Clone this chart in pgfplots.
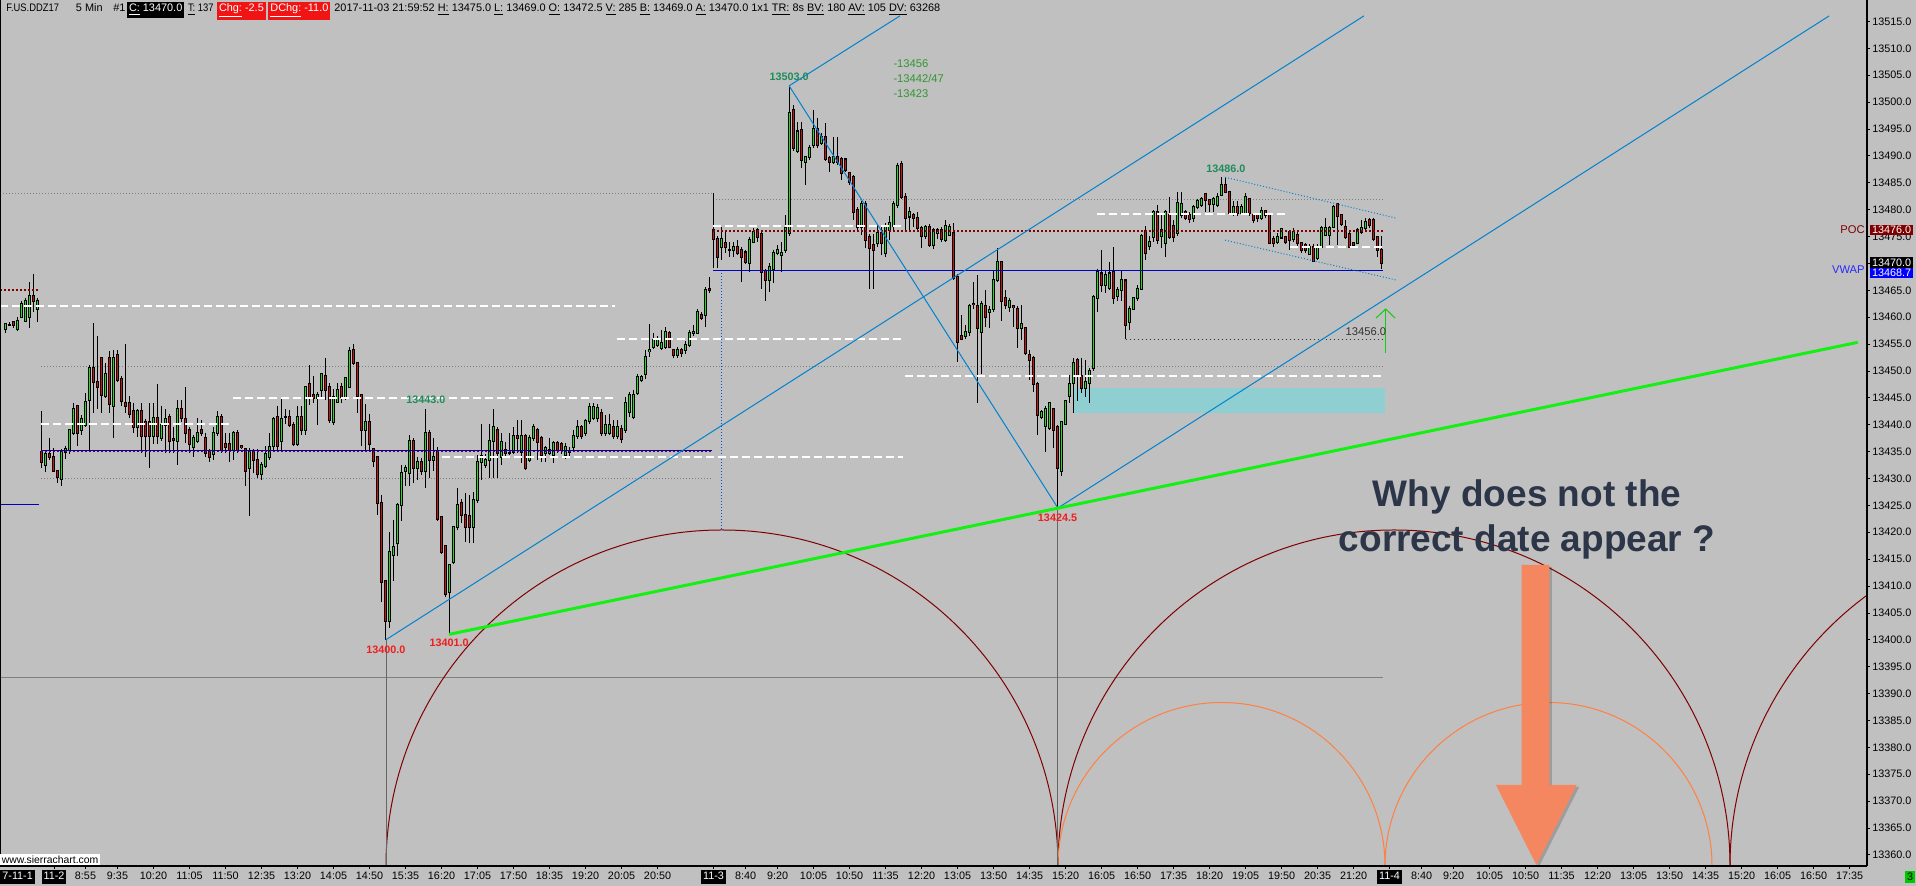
\documentclass[border=0pt]{standalone}
\usepackage{pgfplots}
\pgfplotsset{compat=1.18}
\usepackage{pgfplotstable}
\usepackage{fontspec}
\setmainfont{Liberation Sans}
\newfontfamily\narrowfont[FakeStretch=0.86]{Liberation Sans}
\definecolor{bgray}{RGB}{192,192,192}
\definecolor{cup}{RGB}{30,225,30}
\definecolor{cdn}{RGB}{210,16,16}
\definecolor{poc}{RGB}{128,0,0}
\definecolor{vwap}{RGB}{0,0,190}
\definecolor{tline}{RGB}{0,130,205}
\definecolor{glin}{RGB}{20,240,20}
\definecolor{arcred}{RGB}{128,0,0}
\definecolor{arcor}{RGB}{255,128,64}
\definecolor{cyanbox}{RGB}{143,207,210}
\definecolor{lblgreen}{RGB}{30,140,90}
\definecolor{notegreen}{RGB}{50,150,50}
\definecolor{lblred}{RGB}{240,30,30}
\definecolor{qtext}{RGB}{44,54,72}
\definecolor{arrowc}{RGB}{244,135,95}
\definecolor{hdrred}{RGB}{240,20,20}
\setlength{\fboxsep}{1pt}
\newcommand{\uif}{\fontsize{5.4}{6.5}\selectfont}
\newcommand{\hdf}{\fontsize{5.45}{6.5}\selectfont}
\newcommand{\dbox}[1]{\colorbox{black}{\rule[-1pt]{0pt}{5pt}\textcolor{white}{#1}}}

\pgfplotstableread{
x O H L C
-9 13457.8 13458.7 13457.1 13458.7
-8 13458.6 13459.0 13458.3 13458.6
-7 13459.0 13459.2 13458.0 13458.6
-6 13457.8 13460.0 13457.5 13459.3
-5 13460.0 13463.0 13459.8 13462.5
-4 13459.3 13463.5 13459.0 13463.0
-3 13460.0 13466.5 13458.0 13464.0
-2 13464.0 13468.0 13461.0 13463.0
-1 13461.5 13463.5 13459.0 13463.0
0 13435.0 13442.5 13432.0 13433.0
1 13432.5 13435.3 13431.1 13434.5
2 13434.5 13437.5 13433.5 13434.0
3 13434.0 13435.6 13431.1 13431.4
4 13431.4 13431.4 13429.1 13430.3
5 13429.9 13435.5 13428.5 13435.0
6 13435.0 13436.0 13433.6 13435.5
7 13435.3 13439.0 13434.6 13439.0
8 13438.4 13444.0 13438.0 13442.9
9 13443.5 13443.5 13436.0 13438.4
10 13439.0 13441.8 13438.0 13441.0
11 13440.0 13445.8 13439.6 13444.3
12 13444.5 13451.0 13435.0 13450.5
13 13450.5 13458.9 13442.1 13447.9
14 13447.9 13456.5 13442.9 13447.0
15 13452.3 13452.3 13442.1 13445.5
16 13445.4 13451.4 13445.0 13449.4
17 13452.3 13453.7 13442.1 13443.9
18 13443.4 13453.9 13437.6 13452.3
19 13452.9 13453.9 13448.0 13448.3
20 13448.5 13449.0 13443.5 13444.3
21 13444.1 13455.0 13442.1 13443.4
22 13444.0 13445.4 13441.2 13442.0
23 13442.5 13444.0 13438.5 13439.6
24 13439.6 13442.9 13437.7 13442.5
25 13442.5 13444.0 13434.7 13437.8
26 13440.4 13441.0 13434.0 13437.8
27 13440.4 13444.0 13432.0 13437.8
28 13437.9 13444.0 13436.4 13441.3
29 13441.3 13447.5 13436.4 13437.9
30 13437.5 13443.4 13437.0 13440.0
31 13440.0 13442.9 13434.7 13441.0
32 13441.5 13442.0 13434.7 13436.9
33 13437.4 13439.6 13434.7 13437.1
34 13436.9 13444.6 13432.5 13442.9
35 13442.9 13444.6 13440.5 13441.3
36 13441.0 13447.0 13436.6 13438.4
37 13439.0 13439.6 13434.7 13436.4
38 13435.9 13438.0 13434.0 13437.5
39 13436.9 13441.2 13436.5 13438.5
40 13439.0 13440.9 13437.8 13438.4
41 13437.5 13438.4 13434.0 13434.7
42 13435.0 13435.5 13433.0 13434.0
43 13434.6 13439.6 13433.4 13438.4
44 13438.4 13442.6 13437.9 13441.5
45 13441.5 13442.0 13434.7 13435.3
46 13436.4 13438.4 13434.7 13435.9
47 13436.4 13438.4 13433.0 13435.3
48 13435.3 13438.8 13433.4 13438.4
49 13438.4 13439.0 13434.7 13435.3
50 13436.0 13436.1 13435.5 13435.8
51 13435.4 13435.6 13428.5 13431.4
52 13432.0 13435.6 13423.1 13435.0
53 13435.0 13435.5 13431.1 13433.4
54 13433.4 13435.5 13430.0 13430.8
55 13430.8 13433.0 13429.7 13432.5
56 13432.3 13436.0 13432.0 13434.5
57 13434.0 13438.4 13433.5 13435.9
58 13436.0 13441.5 13435.0 13441.0
59 13441.5 13443.4 13435.0 13436.0
60 13436.9 13444.9 13435.0 13441.0
61 13441.5 13443.0 13440.2 13441.4
62 13441.5 13442.7 13439.5 13440.0
63 13440.0 13440.5 13436.0 13436.4
64 13436.4 13443.4 13436.0 13441.5
65 13441.5 13443.4 13438.0 13439.0
66 13439.0 13447.2 13438.0 13447.0
67 13447.5 13451.0 13443.7 13444.9
68 13445.5 13449.0 13444.0 13444.9
69 13444.9 13446.0 13440.0 13445.5
70 13446.5 13449.5 13445.2 13449.4
71 13449.0 13452.3 13444.6 13446.5
72 13447.0 13447.7 13440.3 13440.9
73 13440.4 13446.6 13440.0 13445.2
74 13444.3 13447.7 13444.0 13446.5
75 13447.0 13447.7 13444.0 13445.2
76 13445.2 13448.8 13444.6 13448.6
77 13447.0 13454.5 13446.9 13453.6
78 13453.9 13455.0 13451.0 13451.4
79 13451.4 13451.5 13442.1 13445.4
80 13445.5 13445.5 13436.0 13439.0
81 13439.0 13443.8 13435.0 13440.4
82 13440.4 13442.0 13435.0 13436.4
83 13435.4 13435.5 13432.2 13433.3
84 13434.0 13434.0 13423.2 13425.4
85 13425.4 13427.0 13407.1 13410.8
86 13410.9 13411.0 13400.0 13403.4
87 13403.4 13420.0 13402.2 13416.4
88 13415.8 13422.3 13411.0 13417.3
89 13418.0 13425.5 13415.5 13425.1
90 13425.1 13432.5 13422.0 13431.0
91 13431.3 13432.5 13428.5 13431.9
92 13431.0 13438.0 13428.5 13436.9
93 13436.9 13437.5 13429.1 13431.9
94 13431.9 13434.0 13429.7 13433.0
95 13433.0 13433.8 13430.6 13431.3
96 13431.3 13442.9 13428.2 13438.4
97 13438.4 13439.0 13430.0 13433.4
98 13433.4 13437.5 13431.4 13434.0
99 13435.0 13435.9 13422.0 13422.4
100 13422.9 13422.9 13416.0 13416.4
101 13417.4 13417.4 13408.0 13408.5
102 13408.9 13414.0 13401.0 13413.9
103 13414.5 13421.0 13414.0 13421.0
104 13421.0 13428.2 13420.5 13425.1
105 13425.4 13426.1 13421.7 13423.2
106 13423.2 13427.2 13418.2 13421.0
107 13423.0 13427.0 13418.0 13420.9
108 13420.9 13427.5 13418.0 13426.0
109 13426.0 13434.4 13425.5 13433.1
110 13433.1 13440.1 13429.7 13434.1
111 13432.5 13434.6 13432.0 13433.4
112 13433.4 13440.2 13430.0 13436.9
113 13436.9 13442.9 13430.0 13439.5
114 13439.0 13439.5 13430.0 13434.7
115 13434.0 13438.5 13432.5 13436.8
116 13435.3 13436.8 13434.2 13434.8
117 13434.8 13438.4 13434.4 13434.8
118 13435.0 13439.6 13434.6 13437.8
119 13437.8 13440.9 13434.7 13437.6
120 13435.0 13440.9 13432.8 13437.8
121 13437.8 13438.2 13431.6 13431.9
122 13433.4 13438.0 13433.0 13437.5
123 13437.5 13440.2 13437.0 13439.6
124 13439.0 13439.3 13433.4 13436.8
125 13437.5 13437.9 13433.1 13434.4
126 13434.7 13436.0 13433.1 13435.6
127 13434.7 13437.5 13434.4 13435.3
128 13434.4 13437.0 13432.8 13436.5
129 13436.5 13437.0 13434.8 13435.3
130 13436.4 13436.8 13434.5 13435.3
131 13434.4 13436.5 13433.6 13435.9
132 13435.0 13435.8 13434.2 13435.0
133 13435.9 13439.0 13435.3 13437.8
134 13437.9 13440.9 13437.3 13439.6
135 13439.6 13440.0 13437.3 13437.8
136 13438.4 13441.0 13437.9 13440.6
137 13440.6 13444.0 13440.2 13443.3
138 13441.2 13444.0 13440.8 13443.3
139 13441.2 13443.8 13440.5 13443.0
140 13442.1 13443.0 13437.8 13438.4
141 13438.4 13441.8 13437.9 13439.9
142 13438.5 13442.0 13438.0 13439.9
143 13439.6 13440.9 13437.4 13437.8
144 13437.8 13440.9 13437.3 13439.6
145 13439.1 13440.0 13436.5 13437.4
146 13439.0 13445.2 13438.5 13444.0
147 13442.4 13446.0 13441.5 13445.5
148 13441.5 13446.5 13441.0 13445.5
149 13445.8 13449.5 13445.5 13448.9
150 13448.3 13449.3 13448.0 13448.9
151 13449.5 13453.9 13448.5 13452.6
152 13453.6 13458.8 13452.6 13453.9
153 13454.5 13457.0 13454.0 13455.7
154 13454.8 13456.5 13454.5 13455.7
155 13454.2 13457.6 13453.9 13455.1
156 13454.5 13458.2 13454.0 13457.3
157 13457.0 13457.5 13454.2 13454.5
158 13453.9 13454.0 13452.3 13452.9
159 13452.9 13454.5 13452.3 13453.9
160 13453.9 13454.2 13452.6 13453.3
161 13453.9 13455.5 13453.2 13454.8
162 13454.8 13457.6 13454.5 13457.0
163 13457.0 13458.5 13456.5 13457.3
164 13457.0 13461.5 13456.8 13461.0
165 13460.4 13461.0 13459.5 13459.8
166 13460.4 13465.5 13458.2 13465.0
167 13465.3 13467.5 13464.5 13465.0
168 13476.1 13483.0 13469.1 13474.5
169 13474.5 13475.0 13469.1 13471.2
170 13473.1 13476.8 13470.6 13474.5
171 13473.8 13476.1 13472.0 13473.0
172 13472.5 13474.0 13471.1 13472.5
173 13472.5 13474.0 13471.2 13473.0
174 13473.0 13474.3 13471.5 13471.9
175 13472.5 13473.0 13466.6 13471.2
176 13472.0 13472.5 13469.8 13470.3
177 13470.0 13474.8 13468.4 13474.3
178 13474.0 13476.5 13473.7 13475.9
179 13476.1 13476.5 13474.0 13474.8
180 13475.4 13476.0 13465.3 13468.4
181 13468.6 13469.0 13463.0 13466.9
182 13466.9 13470.0 13464.7 13469.4
183 13468.9 13472.5 13466.3 13472.0
184 13471.9 13473.4 13471.5 13472.4
185 13471.5 13474.0 13468.4 13472.0
186 13472.4 13479.0 13472.0 13476.5
187 13475.6 13503.0 13475.0 13497.9
188 13498.5 13499.4 13490.8 13491.4
189 13490.8 13496.3 13490.5 13494.5
190 13494.8 13496.3 13487.7 13489.2
191 13488.9 13490.0 13484.6 13489.8
192 13489.8 13492.0 13489.2 13491.4
193 13492.0 13498.5 13491.5 13494.9
194 13494.9 13497.0 13491.5 13492.0
195 13492.4 13494.2 13492.0 13493.4
196 13493.5 13496.0 13489.0 13489.3
197 13489.5 13490.0 13487.0 13488.9
198 13488.9 13493.5 13488.5 13489.8
199 13489.8 13493.5 13488.3 13488.9
200 13489.4 13489.8 13485.5 13486.7
201 13489.3 13489.5 13487.0 13487.3
202 13486.7 13487.0 13484.5 13485.2
203 13486.1 13486.5 13478.0 13479.6
204 13479.9 13480.5 13476.0 13476.8
205 13476.8 13481.5 13475.2 13481.0
206 13481.0 13481.5 13472.8 13474.3
207 13474.9 13475.5 13465.3 13472.8
208 13473.4 13475.5 13465.3 13472.5
209 13473.8 13477.4 13473.0 13475.6
210 13475.6 13477.0 13471.5 13473.7
211 13471.9 13477.5 13471.2 13476.8
212 13476.2 13478.7 13474.3 13477.4
213 13476.9 13481.5 13476.2 13481.0
214 13480.8 13488.6 13480.3 13488.0
215 13488.5 13489.1 13482.0 13482.4
216 13482.4 13483.0 13476.2 13478.4
217 13478.7 13480.5 13476.2 13479.6
218 13479.0 13479.3 13476.8 13478.4
219 13478.4 13479.6 13476.0 13476.5
220 13476.5 13477.0 13472.8 13475.0
221 13475.0 13477.2 13474.5 13476.8
222 13476.8 13477.4 13473.0 13473.4
223 13473.4 13476.5 13472.6 13476.1
224 13475.6 13476.5 13474.6 13476.2
225 13476.1 13476.8 13474.0 13474.6
226 13474.4 13478.0 13474.0 13477.0
227 13475.3 13477.4 13475.0 13476.8
228 13475.6 13477.4 13466.8 13467.2
229 13467.5 13468.0 13451.7 13455.4
230 13456.5 13460.4 13455.7 13455.9
231 13456.5 13458.5 13456.0 13457.3
232 13457.3 13462.5 13456.5 13462.1
233 13462.5 13466.6 13461.5 13462.4
234 13462.1 13467.9 13444.0 13457.9
235 13457.3 13463.0 13449.5 13462.4
236 13462.1 13465.0 13458.2 13460.0
237 13461.0 13462.0 13458.0 13461.4
238 13461.5 13468.5 13461.0 13466.9
239 13466.9 13472.8 13466.5 13470.3
240 13470.3 13470.5 13459.2 13462.9
241 13463.5 13465.0 13461.5 13462.3
242 13461.9 13463.5 13461.0 13463.0
243 13462.0 13462.1 13458.2 13461.8
244 13461.5 13462.0 13454.2 13457.9
245 13458.0 13462.2 13455.7 13458.8
246 13457.9 13458.2 13453.0 13453.4
247 13453.0 13453.9 13448.3 13452.0
248 13452.3 13452.8 13446.0 13447.6
249 13447.6 13448.0 13438.1 13441.8
250 13441.5 13442.8 13441.0 13442.4
251 13439.8 13443.5 13435.0 13442.9
252 13439.3 13444.1 13439.0 13444.0
253 13442.9 13443.0 13435.6 13439.0
254 13439.6 13440.0 13424.5 13431.9
255 13431.3 13440.5 13430.5 13440.4
256 13440.2 13444.5 13440.0 13444.3
257 13445.3 13449.2 13444.0 13447.6
258 13447.8 13452.3 13442.1 13451.4
259 13452.0 13452.3 13444.3 13449.2
260 13449.0 13452.3 13445.8 13446.9
261 13446.9 13452.0 13445.2 13448.0
262 13447.8 13450.5 13444.1 13449.9
263 13450.5 13464.1 13450.0 13463.8
264 13463.5 13469.0 13461.0 13468.3
265 13468.1 13472.5 13464.7 13466.0
266 13466.0 13468.5 13464.5 13467.9
267 13465.4 13470.3 13465.0 13468.1
268 13468.3 13473.1 13462.5 13463.5
269 13464.0 13465.5 13462.9 13465.0
270 13465.0 13468.8 13462.9 13466.9
271 13466.8 13467.0 13456.0 13458.5
272 13459.1 13462.0 13457.6 13461.5
273 13461.5 13463.8 13461.3 13463.5
274 13463.5 13466.0 13463.0 13465.3
275 13465.3 13475.5 13465.0 13475.0
276 13476.0 13477.0 13470.6 13471.9
277 13473.2 13475.0 13472.5 13474.0
278 13474.8 13480.0 13474.0 13479.6
279 13479.6 13480.8 13473.5 13474.3
280 13475.0 13479.3 13472.8 13476.2
281 13473.7 13480.0 13471.2 13479.6
282 13479.0 13482.4 13474.5 13474.8
283 13476.9 13478.0 13474.0 13474.8
284 13475.6 13483.3 13475.0 13481.2
285 13478.9 13483.3 13478.5 13481.0
286 13479.6 13480.0 13478.0 13478.4
287 13479.0 13479.5 13477.5 13478.2
288 13478.4 13480.8 13477.7 13480.4
289 13480.4 13482.0 13480.0 13481.5
290 13480.8 13482.4 13480.5 13481.9
291 13482.8 13483.1 13479.6 13481.8
292 13481.8 13482.0 13479.6 13481.0
293 13481.1 13482.3 13479.6 13481.9
294 13480.8 13483.0 13480.5 13482.4
295 13482.7 13486.0 13482.5 13484.6
296 13484.6 13486.0 13483.0 13483.3
297 13483.3 13483.5 13478.9 13479.3
298 13479.3 13481.5 13478.7 13480.4
299 13480.4 13481.5 13478.7 13479.3
300 13479.3 13481.0 13479.0 13480.4
301 13479.3 13483.0 13479.0 13482.4
302 13481.9 13482.2 13478.7 13479.3
303 13479.0 13479.3 13477.5 13478.1
304 13479.0 13479.3 13477.7 13478.4
305 13478.4 13480.5 13478.0 13479.8
306 13479.8 13480.0 13478.5 13479.0
307 13479.0 13479.3 13473.7 13473.8
308 13474.6 13475.0 13473.1 13473.8
309 13473.9 13475.6 13473.5 13474.8
310 13474.8 13476.5 13474.5 13476.3
311 13474.8 13475.0 13473.5 13474.0
312 13475.9 13476.2 13472.5 13474.3
313 13474.5 13476.5 13474.0 13475.9
314 13475.3 13475.8 13473.0 13473.7
315 13473.8 13474.0 13472.0 13472.5
316 13473.4 13473.8 13472.0 13472.5
317 13471.8 13473.5 13471.5 13473.1
318 13473.1 13473.5 13470.3 13470.4
319 13470.9 13473.5 13470.7 13473.1
320 13473.1 13477.0 13472.8 13476.5
321 13475.3 13478.4 13475.0 13476.5
322 13475.3 13477.0 13473.4 13476.5
323 13476.8 13480.8 13476.5 13480.4
324 13481.0 13481.3 13473.4 13478.8
325 13478.9 13479.2 13476.9 13477.3
326 13476.8 13478.0 13474.5 13474.8
327 13475.4 13475.8 13472.9 13473.0
328 13473.8 13474.0 13473.0 13473.4
329 13473.8 13476.5 13473.5 13476.2
330 13475.9 13478.0 13475.5 13476.5
331 13476.5 13478.4 13476.2 13477.7
332 13478.0 13478.4 13476.5 13477.1
333 13478.0 13478.4 13474.2 13474.5
334 13474.8 13475.0 13471.2 13472.5
335 13472.5 13475.0 13469.0 13470.0
}\candles

\begin{document}
\begin{tikzpicture}[x=1pt,y=1pt]
\useasboundingbox (0,0) rectangle (958,443);
\fill[bgray] (0,0) rectangle (958,443);
\begin{axis}[
  at={(0pt,10pt)}, anchor=south west,
  scale only axis, width=933.5pt, height=433pt,
  xmin=-10.375, xmax=456.375,
  ymin=13357.93, ymax=13518.96,
  axis background/.style={fill=bgray},
  axis line style={draw=none},
  xtick pos=left, ytick pos=right, yticklabel pos=right,
  tick align=outside,
  major tick length=1.5pt,
  every tick/.style={black, line width=0.4pt},
  scaled y ticks=false,
  ytick={13360,13365,...,13515},
  xtick={3.125,11,19,28,37,46,55,64,73,82,91,100,109,118,127,136,145,154,168,176,184,193,202,211,220,229,238,247,256,265,274,283,292,301,310,319,328,337,345,353,362,371,380,389,398,407,416,425,434,443,452},
  xticklabels={\dbox{11-2},8:55,9:35,10:20,11:05,11:50,12:35,13:20,14:05,14:50,15:35,16:20,17:05,17:50,18:35,19:20,20:05,20:50,\dbox{11-3},8:40,9:20,10:05,10:50,11:35,12:20,13:05,13:50,14:35,15:20,16:05,16:50,17:35,18:20,19:05,19:50,20:35,21:20,\dbox{11-4},8:40,9:20,10:05,10:50,11:35,12:20,13:05,13:50,14:35,15:20,16:05,16:50,17:35},
  x tick label style={font=\uif, anchor=base, inner sep=0pt, yshift=-5.5pt},
  y tick label style={font=\uif, inner sep=0pt, xshift=1pt},
  /pgf/number format/fixed, /pgf/number format/fixed zerofill,
  /pgf/number format/precision=1, /pgf/number format/1000 sep={},
  /pgf/number format/assume math mode=true,
  clip=true,
]
% cyan zone
\addplot[fill=cyanbox, draw=none, forget plot] coordinates {(257.95,13442.1) (335.9,13442.1) (335.9,13446.9) (257.95,13446.9)} --cycle;
% gray reference lines
\addplot[gray, line width=0.5pt, dash pattern=on 0.5pt off 1pt] coordinates {(-10.375,13483.0) (167.6,13483.0)};
\addplot[gray, line width=0.5pt, dash pattern=on 0.5pt off 1pt] coordinates {(-0.1,13450.9) (335.4,13450.9)};
\addplot[gray, line width=0.5pt, dash pattern=on 0.5pt off 1pt] coordinates {(-0.1,13429.9) (167.6,13429.9)};
\addplot[gray, line width=0.5pt, dash pattern=on 0.5pt off 1pt] coordinates {(167.9,13481.9) (335.4,13481.9)};
\addplot[gray, line width=0.4pt] coordinates {(-10.375,13393.0) (335.4,13393.0)};
% arcs
\draw[arcred, line width=0.5pt] (axis cs:86.125,13357.93) arc[start angle=180, end angle=0, radius=168pt];
\draw[arcred, line width=0.5pt] (axis cs:254.125,13357.93) arc[start angle=180, end angle=0, radius=168pt];
\draw[arcred, line width=0.5pt] (axis cs:422.125,13357.93) arc[start angle=180, end angle=0, radius=168pt];
\draw[arcor, line width=0.5pt] (axis cs:254.125,13357.93) arc[start angle=180, end angle=0, radius=81.75pt];
\draw[arcor, line width=0.5pt] (axis cs:335.875,13357.93) arc[start angle=180, end angle=0, radius=81.75pt];
% verticals
\addplot[gray!80!black, line width=0.4pt] coordinates {(86.1,13400) (86.1,13357.93)};
\addplot[gray!80!black, line width=0.4pt] coordinates {(254.0,13424.5) (254.0,13357.93)};
\addplot[tline!60!blue, line width=0.5pt, dash pattern=on 0.5pt off 1pt] coordinates {(169.95,13468.7) (169.95,13420.4)};
% candles: wicks
\addplot[mark=none, draw=none, forget plot,
  error bars/.cd, y dir=both, y explicit, error mark=none,
  error bar style={draw=black, line width=0.5pt}]
  table[x=x, y expr={0.5*(\thisrow{H}+\thisrow{L})}, y error expr={0.5*(\thisrow{H}-\thisrow{L})}] {\candles};
% bodies outline
\addplot[mark=none, draw=none, forget plot,
  error bars/.cd, y dir=both, y explicit, error mark=none,
  error bar style={draw=black, line width=1.75pt}]
  table[x=x, y expr={0.5*(\thisrow{O}+\thisrow{C})}, y error expr={0.5*abs(\thisrow{C}-\thisrow{O})+0.19}] {\candles};
% up bodies
\addplot[mark=none, draw=none, forget plot, restrict y to domain=13300:13600,
  error bars/.cd, y dir=both, y explicit, error mark=none,
  error bar style={draw=cup, line width=0.95pt}]
  table[x=x, y expr={\thisrow{C}>\thisrow{O} ? 0.5*(\thisrow{O}+\thisrow{C}) : 20000}, y error expr={0.5*abs(\thisrow{C}-\thisrow{O})}] {\candles};
% down bodies
\addplot[mark=none, draw=none, forget plot, restrict y to domain=13300:13600,
  error bars/.cd, y dir=both, y explicit, error mark=none,
  error bar style={draw=cdn, line width=0.95pt}]
  table[x=x, y expr={\thisrow{C}<\thisrow{O} ? 0.5*(\thisrow{O}+\thisrow{C}) : 20000}, y error expr={0.5*abs(\thisrow{C}-\thisrow{O})}] {\candles};
% white dashed levels
\addplot[white, line width=1pt, dash pattern=on 4pt off 2pt] coordinates {(-10.375,13462.1) (143.4,13462.1)};
\addplot[white, line width=1pt, dash pattern=on 4pt off 2pt] coordinates {(-0.1,13440.1) (47.55,13440.1)};
\addplot[white, line width=1pt, dash pattern=on 4pt off 2pt] coordinates {(47.9,13445.0) (143.4,13445.0)};
\addplot[white, line width=1pt, dash pattern=on 4pt off 2pt] coordinates {(100.1,13434.0) (215.4,13434.0)};
\addplot[white, line width=1pt, dash pattern=on 4pt off 2pt] coordinates {(143.9,13456.0) (215.4,13456.0)};
\addplot[white, line width=1pt, dash pattern=on 4pt off 2pt] coordinates {(167.9,13477.0) (215.4,13477.0)};
\addplot[white, line width=1pt, dash pattern=on 4pt off 2pt] coordinates {(215.9,13449.1) (335.4,13449.1)};
\addplot[white, line width=1pt, dash pattern=on 4pt off 2pt] coordinates {(263.9,13479.1) (311.4,13479.1)};
\addplot[white, line width=1pt, dash pattern=on 4pt off 2pt] coordinates {(312.1,13473.1) (335.4,13473.1)};
% VWAP
\addplot[vwap, line width=0.6pt] coordinates {(-10.375,13425.2) (-0.6,13425.2)};
\addplot[vwap, line width=0.6pt] coordinates {(-0.1,13435.2) (167.6,13435.2)};
\addplot[vwap, line width=0.6pt] coordinates {(167.9,13468.7) (335.4,13468.7)};
% POC
\addplot[poc, line width=0.8pt, dash pattern=on 1pt off 1pt] coordinates {(-10.375,13465.0) (-0.6,13465.0)};
\addplot[poc, line width=0.8pt, dash pattern=on 1pt off 1pt] coordinates {(-0.1,13435.0) (167.6,13435.0)};
\addplot[poc, line width=0.8pt, dash pattern=on 1pt off 1pt] coordinates {(167.9,13476.0) (335.4,13476.0)};
% 13456 level
\addplot[black!80, line width=0.5pt, dash pattern=on 0.5pt off 1.5pt] coordinates {(271.0,13455.9) (335.9,13455.9)};
% trend lines
\addplot[tline, line width=0.5pt] coordinates {(86.1,13400) (330.6,13516)};
\addplot[tline, line width=0.5pt] coordinates {(254.1,13424.5) (446.9,13516)};
\addplot[tline, line width=0.5pt] coordinates {(186.9,13503) (214.6,13516)};
\addplot[tline, line width=0.5pt] coordinates {(186.9,13503) (254.1,13424.5)};
\addplot[tline, line width=0.5pt, dash pattern=on 0.5pt off 1pt] coordinates {(295.9,13486.0) (338.6,13478.4)};
\addplot[tline, line width=0.5pt, dash pattern=on 0.5pt off 1pt] coordinates {(295.9,13474.3) (338.6,13466.9)};
% green line
\addplot[glin, line width=1.5pt] coordinates {(101.9,13401) (454.05,13455.3)};
% small green arrow
\addplot[glin!85!black, line width=0.5pt] coordinates {(336.05,13453.4) (336.05,13461.5)};
\addplot[glin!85!black, line width=0.5pt] coordinates {(333.6,13459.8) (336.05,13461.5) (338.4,13459.8)};
% labels
\node[font=\uif\bfseries, text=lblred] at (axis cs:86.1,13398.1) {13400.0};
\node[font=\uif\bfseries, text=lblred] at (axis cs:101.9,13399.4) {13401.0};
\node[font=\uif\bfseries, text=lblred] at (axis cs:254.0,13422.6) {13424.5};
\node[font=\uif\bfseries, text=lblgreen] at (axis cs:96.1,13444.6) {13443.0};
\node[font=\uif\bfseries, text=lblgreen] at (axis cs:186.9,13504.6) {13503.0};
\node[font=\uif\bfseries, text=lblgreen] at (axis cs:296.1,13487.5) {13486.0};
\node[font=\fontsize{5.6}{6.5}\selectfont, text=black!80] at (axis cs:331.1,13457.2) {13456.0};
\node[font=\fontsize{5.6}{6.5}\selectfont, text=notegreen, anchor=west, inner sep=0pt] at (axis cs:212.9,13507.1) {-13456};
\node[font=\fontsize{5.6}{6.5}\selectfont, text=notegreen, anchor=west, inner sep=0pt] at (axis cs:212.9,13504.3) {-13442/47};
\node[font=\fontsize{5.6}{6.5}\selectfont, text=notegreen, anchor=west, inner sep=0pt] at (axis cs:212.9,13501.6) {-13423};
\end{axis}
% frame lines
\draw[black, line width=0.6pt] (933.5,10) -- (933.5,443);
\draw[black, line width=0.6pt] (0,10) -- (933.5,10);
\draw[black, line width=0.6pt] (0.3,10) -- (0.3,443);
% header
\begin{scope}[every node/.style={font=\hdf, anchor=base west, inner sep=0pt}]
\node at (3,437.25) {\narrowfont F.US.DDZ17};
\node[anchor=base east] at (51.5,437.25) {5 Min};
\node at (56.5,437.25) {\#1};
\node at (63.3,437.25) {\colorbox{black}{\textcolor{white}{\underline{C:} 13470.0}}};
\node at (93.8,437.25) {\narrowfont\underline{T:} 137};
\node at (108.3,437.25) {\colorbox{hdrred}{\textcolor{white}{\underline{Chg:} -2.5}}};
\node at (134,437.25) {\colorbox{hdrred}{\textcolor{white}{\underline{DChg:} -11.0}}};
\node at (167,437.25) {2017-11-03 21:59:52 \underline{H:} 13475.0 \underline{L:} 13469.0 \underline{O:} 13472.5 \underline{V:} 285 \underline{B:} 13469.0 \underline{A:} 13470.0 1x1 \underline{TR:} 8s \underline{BV:} 180 \underline{AV:} 105 \underline{DV:} 63268};
\end{scope}
% bottom items
\node[font=\uif, anchor=base west, inner sep=0pt] at (0,3) {\dbox{7-11-1}};
\node[font=\fontsize{5.2}{6}\selectfont, anchor=south west, fill=white, inner sep=0.7pt] at (0,10.4) {www.sierrachart.com};
\node[font=\uif, fill={rgb,255:red,0;green,200;blue,0}, text=black, inner sep=1pt] at (955,4.6) {3};
% right price boxes
\node[font=\fontsize{5.6}{6.5}\selectfont, text=poc, anchor=east, inner sep=0pt] at (932.5,328) {POC};
\node[font=\uif, fill=poc, text=white, anchor=west, inner sep=0.8pt] at (935,328) {13476.0};
\node[font=\fontsize{5.6}{6.5}\selectfont, text={rgb,255:red,40;green,40;blue,255}, anchor=east, inner sep=0pt] at (932.5,308) {VWAP};
\node[font=\uif, fill={rgb,255:red,0;green,0;blue,255}, text=white, anchor=west, inner sep=0.8pt] at (935,306.75) {13468.7};
\node[font=\uif, fill=black, text=white, anchor=west, inner sep=0.8pt] at (935,311.65) {13470.0};
% question text and arrow
\node[anchor=base, font=\fontsize{18.5}{22}\selectfont\bfseries, text=qtext] at (763.5,189.65) {Why does not the};
\node[anchor=base, font=\fontsize{18.5}{22}\selectfont\bfseries, text=qtext] at (763.5,167.15) {correct date appear ?};
\fill[black, opacity=0.18] (762.1,159.5) -- (775.9,159.5) -- (775.9,49.5) -- (789.6,49.5) -- (769.4,9.5) -- (749.2,49.5) -- (762.1,49.5) -- cycle;
\fill[arrowc] (760.85,160.5) -- (774.65,160.5) -- (774.65,50.5) -- (788.35,50.5) -- (768.2,10.5) -- (748,50.5) -- (760.85,50.5) -- cycle;
\end{tikzpicture}
\end{document}
